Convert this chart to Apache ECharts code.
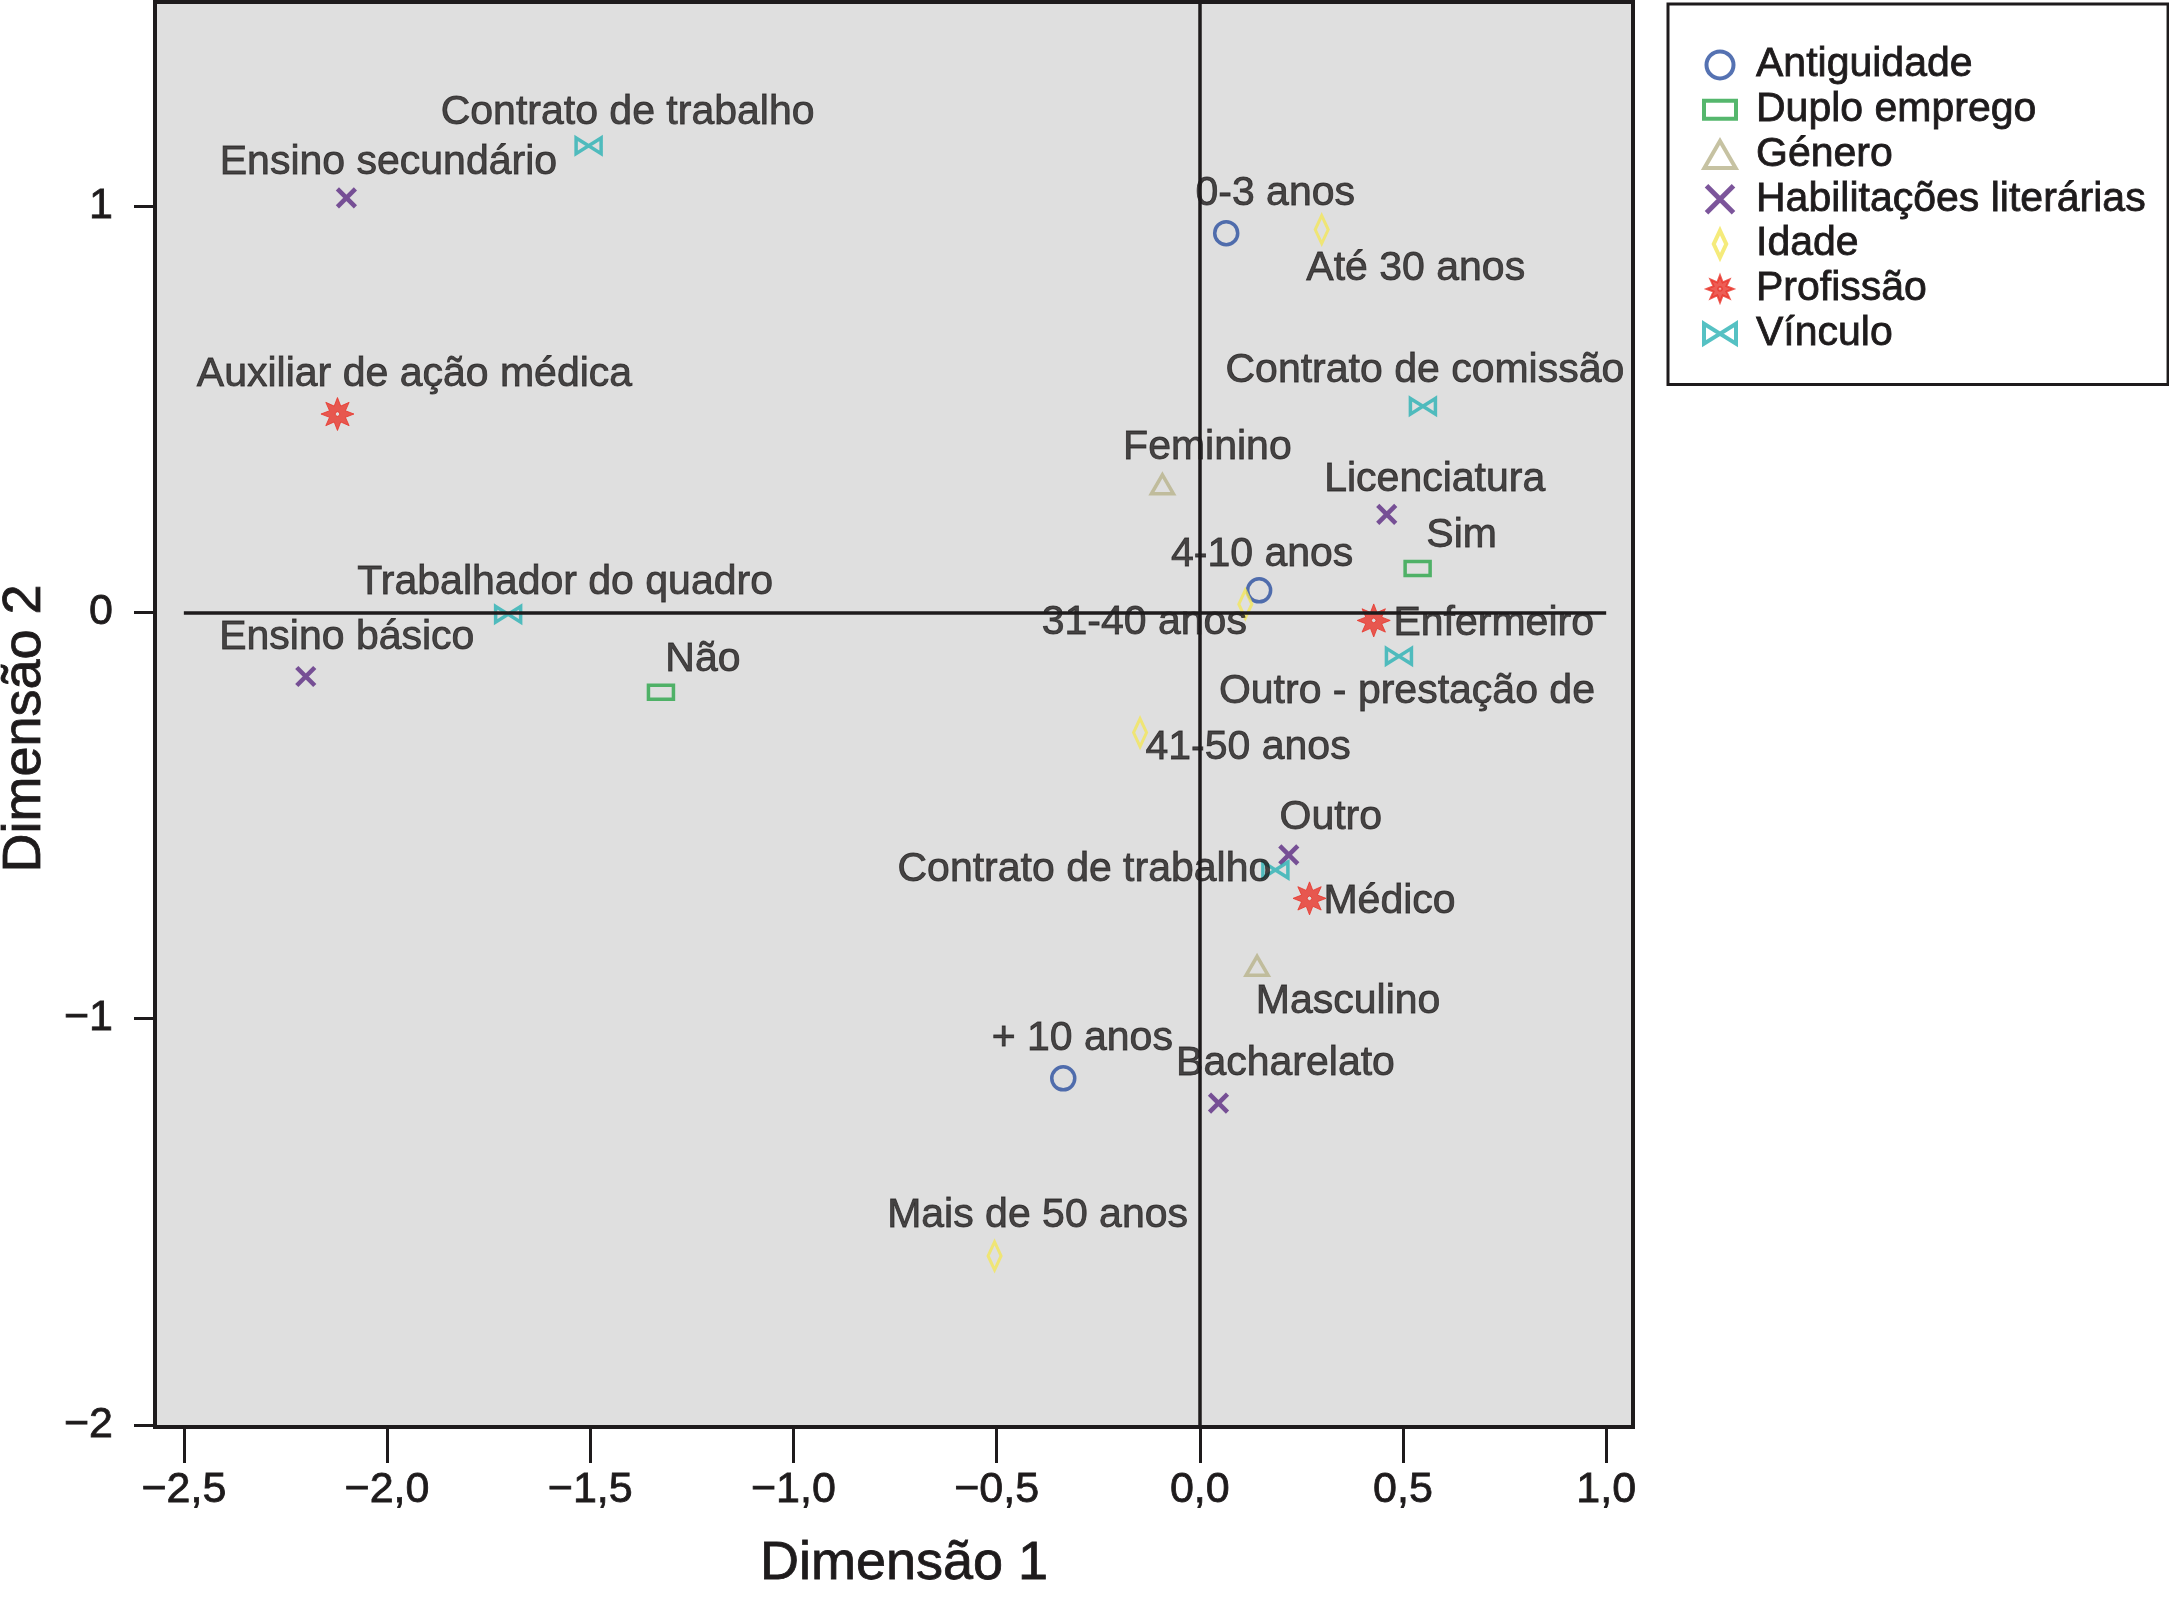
<!DOCTYPE html>
<html>
<head>
<meta charset="utf-8">
<script src="https://cdn.jsdelivr.net/npm/echarts@6/dist/echarts.min.js"></script>
<style>
html,body{margin:0;padding:0;background:#ffffff;}
#chart{width:2169px;height:1612px;}
</style>
</head>
<body>
<div id="chart"></div>
<script>
// ---------- DATA ----------
const xTicks = [-2.5, -2.0, -1.5, -1.0, -0.5, 0.0, 0.5, 1.0];
const yTicks = [-2, -1, 0, 1];
const seriesNames = ['Antiguidade', 'Duplo emprego', 'Género', 'Habilitações literárias', 'Idade', 'Profissão', 'Vínculo'];

const antiguidadeNames = ['0-3 anos', '4-10 anos', '+ 10 anos'];
const antiguidadeX = [0.065, 0.146, -0.336];
const antiguidadeY = [0.933, 0.054, -1.147];

const duploNames = ['Sim', 'Não'];
const duploX = [0.536, -1.326];
const duploY = [0.108, -0.197];

const generoNames = ['Feminino', 'Masculino'];
const generoX = [-0.092, 0.141];
const generoY = [0.315, -0.870];

const habilNames = ['Ensino secundário', 'Ensino básico', 'Licenciatura', 'Outro', 'Bacharelato'];
const habilX = [-2.100, -2.200, 0.460, 0.219, 0.046];
const habilY = [1.020, -0.158, 0.241, -0.597, -1.208];

const idadeNames = ['Até 30 anos', '31-40 anos', '41-50 anos', 'Mais de 50 anos'];
const idadeX = [0.300, 0.112, -0.147, -0.505];
const idadeY = [0.942, 0.020, -0.296, -1.584];

const profNames = ['Auxiliar de ação médica', 'Enfermeiro', 'Médico'];
const profX = [-2.122, 0.428, 0.270];
const profY = [0.488, -0.020, -0.704];

const vincNames = ['Contrato de trabalho', 'Trabalhador do quadro', 'Contrato de comissão', 'Outro - prestação de', 'Contrato de trabalho'];
const vincX = [-1.504, -1.702, 0.549, 0.490, 0.186];
const vincY = [1.148, -0.005, 0.507, -0.108, -0.634];

// ---------- LAYOUT (label offsets in px, per point) ----------
const antiguidadeOff = [[49, -40], [3, -36], [19, -40]];
const duploOff = [[44, -33], [42, -33]];
const generoOff = [[45, -37], [91, 36]];
const habilOff = [[42, -35], [41, -39], [48, -35], [42, -37], [67, -39]];
const idadeOff = [[94, 39], [-101, 19], [108, 15], [43, -40]];
const profOff = [[77, -39], [120, 3], [80, 3]];
const vincOff = [[39, -33], [57, -32], [2, -36], [8, 35], [-191, 0]];

// ---------- SYMBOLS ----------
function starPath() {
  const pts = [];
  for (let i = 0; i < 16; i++) {
    const a = (-90 + i * 22.5) * Math.PI / 180;
    const r = i % 2 === 0 ? 10 : 5.2;
    pts.push([(10 + r * Math.cos(a)).toFixed(3), (10 + r * Math.sin(a)).toFixed(3)]);
  }
  let d = 'M' + pts.map(p => p.join(',')).join('L') + 'Z';
  const h = [];
  for (let i = 0; i < 8; i++) {
    const a = (-i * 45) * Math.PI / 180;
    h.push([(10 + 1.4 * Math.cos(a)).toFixed(3), (10 + 1.4 * Math.sin(a)).toFixed(3)]);
  }
  d += 'M' + h.map(p => p.join(',')).join('L') + 'Z';
  return 'path://' + d;
}
const SYM_X = 'path://M0,0L10,10M10,0L0,10';
const SYM_BOW = 'path://M0,0L12,7.5L0,15ZM24,0L12,7.5L24,15Z';
const SYM_RECT = 'path://M0,0L25,0L25,14L0,14Z';
const SYM_TRI = 'path://M11,0L22,19L0,19Z';
const SYM_DIA = 'path://M6.5,0L13,14L6.5,28L0,14Z';
const SYM_STAR = starPath();

const INK = '#1e1b1c';
const FONT = '"Liberation Sans", Arial, Helvetica, sans-serif';
const HEAVY = { textBorderWidth: 0.8, textBorderColor: INK };

const COLORS = ['#2a4f9f', '#2aa548', '#b8b38b', '#5b2a82', '#f2e65a', '#e8352b', '#2bb2b4'];
const SYMBOLS = ['circle', SYM_RECT, SYM_TRI, SYM_X, SYM_DIA, SYM_STAR, SYM_BOW];

function buildData(names, xs, ys, offs) {
  return names.map((n, i) => ({
    name: n,
    value: [xs[i], ys[i]],
    label: { offset: offs[i] }
  }));
}

const labelBase = Object.assign({
  show: true,
  formatter: '{b}',
  position: 'inside',
  align: 'center',
  verticalAlign: 'middle',
  fontSize: 41,
  fontFamily: FONT,
  color: INK
}, HEAVY);

// symbolKeepAspect: size given as the longest side of the shape
function mkSeries(idx, data, size, bw, fill) {
  return {
    name: seriesNames[idx],
    type: 'scatter',
    data: data,
    symbol: SYMBOLS[idx],
    symbolSize: size,
    symbolKeepAspect: true,
    itemStyle: { color: fill || 'rgba(0,0,0,0)', borderColor: COLORS[idx], borderWidth: bw },
    label: labelBase,
    emphasis: { disabled: true },
    silent: true,
    z: 3
  };
}

const series = [
  mkSeries(0, buildData(antiguidadeNames, antiguidadeX, antiguidadeY, antiguidadeOff), 23, 3.5),
  mkSeries(1, buildData(duploNames, duploX, duploY, duploOff), 25, 3.5),
  mkSeries(2, buildData(generoNames, generoX, generoY, generoOff), 22, 3.5),
  mkSeries(3, buildData(habilNames, habilX, habilY, habilOff), 18, 4.5),
  mkSeries(4, buildData(idadeNames, idadeX, idadeY, idadeOff), 28, 3),
  mkSeries(5, buildData(profNames, profX, profY, profOff), 33, 1, COLORS[5]),
  mkSeries(6, buildData(vincNames, vincX, vincY, vincOff), 25, 3.5)
];

// reference lines at 0
series.push({
  name: 'zero',
  type: 'scatter',
  data: [],
  silent: true,
  z: 2,
  markLine: {
    silent: true,
    symbol: ['none', 'none'],
    label: { show: false },
    lineStyle: { color: INK, width: 3.5, type: 'solid' },
    emphasis: { disabled: true },
    data: [
      [{ coord: [xTicks[0], 0] }, { coord: [xTicks[xTicks.length - 1], 0] }],
      { xAxis: 0 }
    ]
  }
});

const legendData = seriesNames.map((n, i) => ({
  name: n,
  icon: SYMBOLS[i],
  itemStyle: i === 5
    ? { color: COLORS[i], borderColor: COLORS[i], borderWidth: 2 }
    : { color: 'rgba(0,0,0,0)', borderColor: COLORS[i], borderWidth: i === 3 ? 5 : 4 }
}));

const fmtX = v => (v < 0 ? '\u2212' : '') + Math.abs(v).toFixed(1).replace('.', ',');
const fmtY = v => (v < 0 ? '\u2212' : '') + Math.abs(Math.round(v));

const chart = echarts.init(document.getElementById('chart'), null, { renderer: 'canvas' });
chart.setOption({
  animation: false,
  backgroundColor: '#ffffff',
  textStyle: { fontFamily: FONT, color: INK },
  grid: {
    left: 155, top: 2, width: 1478, height: 1425,
    outerBoundsMode: 'none',
    containLabel: false,
    show: true, backgroundColor: '#dfdfdf', borderColor: INK, borderWidth: 4
  },
  xAxis: {
    type: 'value',
    min: -2.571, max: 1.066,
    name: 'Dimensão 1',
    nameLocation: 'middle',
    nameGap: 110,
    nameTextStyle: Object.assign({ fontSize: 54, color: INK, fontFamily: FONT, padding: [0, 0, 0, 20] }, HEAVY),
    axisLine: { show: true, onZero: false, lineStyle: { color: INK, width: 4 } },
    axisTick: { show: true, customValues: xTicks, length: 36, lineStyle: { color: INK, width: 3 } },
    axisLabel: Object.assign({ customValues: xTicks, formatter: fmtX, fontSize: 43, color: INK, fontFamily: FONT, margin: 42 }, HEAVY),
    splitLine: { show: false }
  },
  yAxis: {
    type: 'value',
    min: -2.005, max: 1.502,
    name: 'Dimensão 2',
    nameLocation: 'middle',
    nameGap: 98,
    nameTextStyle: Object.assign({ fontSize: 54, color: INK, fontFamily: FONT, padding: [0, 28, 0, 0] }, HEAVY),
    axisLine: { show: true, onZero: false, lineStyle: { color: INK, width: 4 } },
    axisTick: { show: true, customValues: yTicks, length: 21, lineStyle: { color: INK, width: 3 } },
    axisLabel: Object.assign({ customValues: yTicks, formatter: fmtY, fontSize: 43, color: INK, fontFamily: FONT, margin: 42 }, HEAVY),
    splitLine: { show: false }
  },
  legend: {
    data: legendData,
    orient: 'vertical',
    left: 1668,
    top: 4,
    padding: [40, 22, 30, 34],
    itemGap: 3,
    itemWidth: 32,
    itemHeight: 27,
    borderColor: INK,
    borderWidth: 3,
    selectedMode: false,
    textStyle: Object.assign({ fontSize: 41, color: INK, fontFamily: FONT, padding: [0, 0, 0, 15] }, HEAVY)
  },
  series: series
});
</script>
</body>
</html>
